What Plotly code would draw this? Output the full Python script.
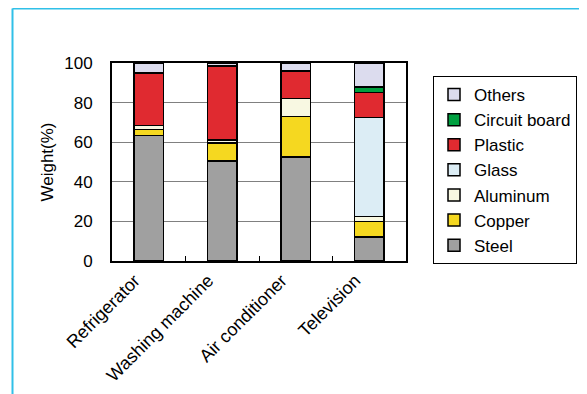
import plotly.graph_objects as go

categories = ["Refrigerator", "Washing machine", "Air conditioner", "Television"]
materials = ["Steel", "Copper", "Aluminum", "Glass", "Plastic", "Circuit board", "Others"]
steel = [63.5, 50.5, 52.5, 12]
copper = [3, 9, 20.5, 8]
aluminum = [2, 1.5, 9, 2.5]
glass = [0, 0, 0, 50]
plastic = [26.5, 37.5, 14, 12.5]
circuit_board = [0, 0, 0, 3]
others = [5, 1.5, 4, 12]
values = [steel, copper, aluminum, glass, plastic, circuit_board, others]
colors = ["#a0a0a0", "#f5d820", "#f8f8e2", "#dcedf5", "#e02a30", "#00a040", "#dcdcee"]

OFF = 8  # default body margin of the html page
W, H = 587, 394
L, R, T, B = 112 - OFF, 406 - OFF, 63 - OFF, 261 - OFF
pw, ph = R - L, B - T

fig = go.Figure()
for name, vals, col in zip(materials, values, colors):
    fig.add_trace(go.Bar(
        x=categories, y=vals, name=name, width=0.4,
        marker=dict(color=col, line=dict(color="black", width=1.5)),
    ))

def px(x):
    return (x - OFF - L) / pw

def py(y):
    return (B - (y - OFF)) / ph

fig.update_layout(
    width=W, height=H,
    barmode="stack",
    paper_bgcolor="white", plot_bgcolor="white",
    margin=dict(l=L, r=W - R, t=T, b=H - B),
    font=dict(family="Liberation Sans, Arial, sans-serif", size=16, color="black"),
    showlegend=True,
    legend=dict(
        traceorder="reversed",
        x=px(433), y=py(76), xanchor="left", yanchor="top",
        bordercolor="black", borderwidth=1,
        font=dict(size=17),
        itemwidth=30,
        tracegroupgap=0,
    ),
    xaxis=dict(
        type="category", range=[-0.5, 3.5],
        tickson="boundaries", ticks="inside", ticklen=5, tickcolor="black",
        tickangle=-45, tickfont=dict(size=18), ticklabelshift=-14,
        showline=True, linecolor="black", linewidth=2, mirror=True,
        showgrid=False,
    ),
    yaxis=dict(
        range=[0, 100], dtick=20, ticks="",
        ticklabelstandoff=14, tickfont=dict(size=17),
        showline=True, linecolor="black", linewidth=2, mirror=True,
        showgrid=True, gridcolor="#808080", gridwidth=1,
        title=dict(text="Weight(%)", standoff=6, font=dict(size=17)),
        zeroline=False,
    ),
    shapes=[
        dict(type="line", xref="paper", yref="paper",
             x0=px(12.5), x1=px(600), y0=py(8.5), y1=py(8.5),
             line=dict(color="#30c0e8", width=2)),
        dict(type="line", xref="paper", yref="paper",
             x0=px(12.5), x1=px(12.5), y0=py(8.5), y1=py(410),
             line=dict(color="#30c0e8", width=2)),
    ],
)

fig.write_html("out.html")
